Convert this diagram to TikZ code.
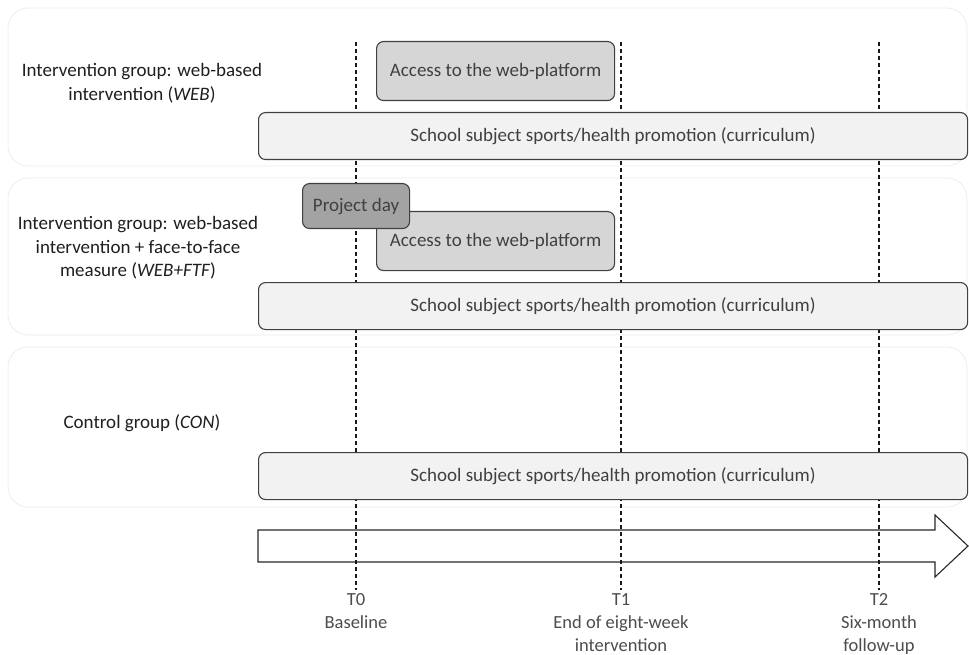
\documentclass[tikz,border=0pt]{standalone}
\usepackage{fontspec}
\setmainfont{Carlito}
\begin{document}
\begin{tikzpicture}[x=1pt,y=-1pt,
  groupbox/.style={draw=black!7, line width=0.8pt, rounded corners=20pt, fill=white},
  grouplabel/.style={align=center, text=black!88, font=\fontsize{19}{23.5}\selectfont},
  bar/.style={draw=black!75, line width=1.1pt, rounded corners=7pt, anchor=north west, inner sep=0pt, text=black!75, font=\fontsize{19}{23}\selectfont},
  curr/.style={bar, fill=black!5},
  access/.style={bar, fill=black!16},
  pday/.style={bar, fill=black!36},
  tline/.style={draw=black!90, line width=1.1pt, dash pattern=on 4pt off 3pt},
  tlabel/.style={align=center, anchor=north, text=black!70, font=\fontsize{18.5}{23}\selectfont},
]
\useasboundingbox (0,0) rectangle (969,655);
% group frames
\draw[groupbox] (8,8) rectangle (967,166);
\draw[groupbox] (8,178) rectangle (967,335);
\draw[groupbox] (8,347) rectangle (967,507);
% group labels
\node[grouplabel] (g1) at (142,83) {Intervention group: web-based\\intervention (\textit{WEB})};
\node[grouplabel] (g2) at (138,248) {Intervention group: web-based\\intervention + face-to-face\\measure (\textit{WEB+FTF})};
\node[grouplabel] (g3) at (142,423) {Control group (\textit{CON})};
% arrow
\draw[line width=1.1pt, draw=black!85] (258,530) -- (935,530) -- (935,515) -- (968,546) -- (935,577) -- (935,562) -- (258,562) -- cycle;
% time lines
\coordinate (t0a) at (356,42); \coordinate (t0b) at (356,590);
\coordinate (t1a) at (621,42); \coordinate (t1b) at (621,590);
\coordinate (t2a) at (879,42); \coordinate (t2b) at (879,590);
\draw[tline] (t0a) -- (t0b);
\draw[tline] (t1a) -- (t1b);
\draw[tline] (t2a) -- (t2b);
% bars group 1
\node[access, minimum width=238pt, minimum height=59pt] (acc1) at (376,41) {Access to the web-platform};
\node[curr, minimum width=709pt, minimum height=47pt] (cur1) at (258,112) {School subject sports/health promotion (curriculum)};
% bars group 2
\node[access, minimum width=238pt, minimum height=59pt] (acc2) at (376,211) {Access to the web-platform};
\node[pday, minimum width=107pt, minimum height=45pt] (pd) at (302,183) {Project day};
\node[curr, minimum width=709pt, minimum height=47pt] (cur2) at (258,282) {School subject sports/health promotion (curriculum)};
% bar group 3
\node[curr, minimum width=709pt, minimum height=47pt] (cur3) at (258,452) {School subject sports/health promotion (curriculum)};
% time labels
\node[tlabel] (l0) at (t0b) [yshift=0pt] {T0\\Baseline};
\node[tlabel] (l1) at (t1b) [yshift=0pt] {T1\\End of eight-week\\intervention};
\node[tlabel] (l2) at (t2b) [yshift=0pt] {T2\\Six-month\\follow-up};
\end{tikzpicture}
\end{document}
